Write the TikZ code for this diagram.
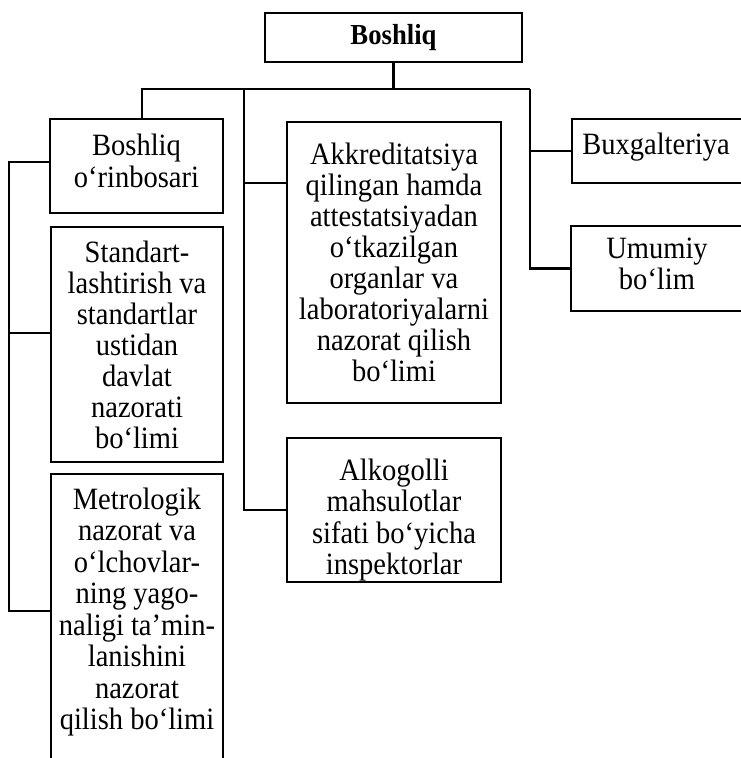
\documentclass[tikz,border=0pt]{standalone}
\usepackage{fontspec}
\setmainfont[FakeStretch=0.92]{Liberation Serif}
\tikzset{
  unit/.style={draw, line width=2.3pt, align=center, inner sep=0pt,
    font=\fontsize{31}{31}\selectfont},
  words/.style={align=center, inner sep=0pt, font=\fontsize{31}{31.5}\selectfont},
  link/.style={line width=2.7pt},
}
\begin{document}
\begin{tikzpicture}[x=1pt,y=-1pt]
      \clip (0,0) rectangle (741,758);
      \draw
        (393.5,37.5) node[unit, minimum width=257, minimum height=49,
          font=\fontsize{29}{30}\selectfont\bfseries] (boss){Boshliq}
        (136.5,166) node[unit, minimum width=173, minimum height=94] (orin){}
        (136.5,161) node[words] (orintxt){Boshliq\\o‘rinbosari}
        (137,344.5) node[unit, minimum width=172, minimum height=235] (std){Standart-\\lashtirish va\\standartlar\\ustidan\\davlat\\nazorati\\bo‘limi}
        (137,473) node[unit, anchor=north, minimum width=172, minimum height=330] (metro){}
        (137,612) node[words] (metrotxt){Metrologik\\nazorat va\\o‘lchovlar-\\ning yago-\\naligi ta’min-\\lanishini\\nazorat\\qilish bo‘limi}
        (394,262.5) node[unit, minimum width=214, minimum height=281] (akk){Akkreditatsiya\\qilingan hamda\\attestatsiyadan\\o‘tkazilgan\\organlar va\\laboratoriyalarni\\nazorat qilish\\bo‘limi}
        (394,510) node[unit, minimum width=214, minimum height=144] (alko){}
        (394,520) node[words] (alkotxt){Alkogolli\\mahsulotlar\\sifati bo‘yicha\\inspektorlar}
        (658,151) node[unit, minimum width=172, minimum height=64] (bux){}
        (656,147) node[words] (buxtxt){Buxgalteriya}
        (657.5,268.5) node[unit, minimum width=173, minimum height=85] (umu){}
        (657,264) node[words] (umutxt){Umumiy\\bo‘lim};
      % bus points
      \coordinate (barL) at (142,89);
      \coordinate (barR) at (530,89);
      \coordinate (midT) at (244,89);
      \coordinate (lt) at (9,162);
      \coordinate (akkin) at (287,183);
      \coordinate (stdin) at (51,333);
      \coordinate (metroin) at (51,611);
      \begin{scope}[link]
        \draw (boss.south) to (boss.south |- barL);
        \draw (barL |- orin.north) to (barL) to (barR);
        \draw (barR) |- (umu.west);
        \draw (barR |- bux.west) to (bux.west);
        \draw (midT) |- (alko.west);
        \draw (midT |- akkin) to (akkin);
        \draw (orin.west |- lt) to (lt) |- (metroin);
        \draw (lt |- stdin) to (stdin);
      \end{scope}
    \end{tikzpicture}
\end{document}
